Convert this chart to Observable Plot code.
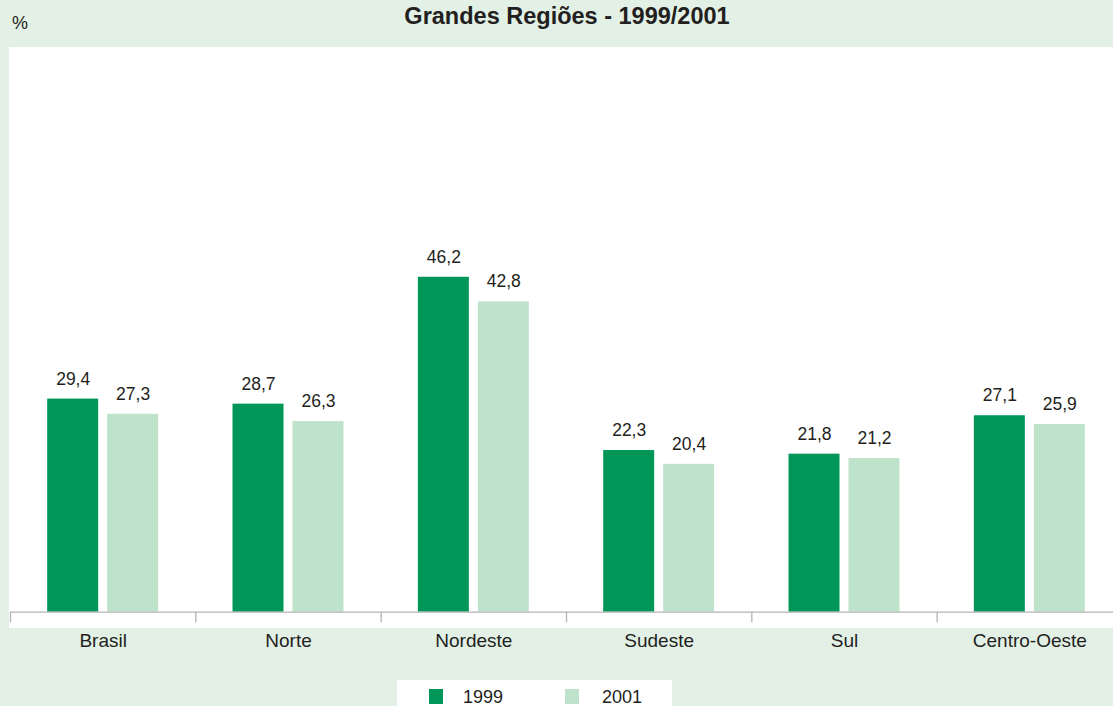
<!DOCTYPE html>
<html>
<head>
<meta charset="utf-8">
<script src="https://cdn.jsdelivr.net/npm/d3@7"></script>
<script src="https://cdn.jsdelivr.net/npm/@observablehq/plot@0.6"></script>
<style>
  html, body { margin: 0; padding: 0; }
  body { width: 1113px; height: 706px; overflow: hidden; background: #e2f0e6; font-family: "Liberation Sans", Arial, sans-serif; color: #231f20; }
  #wrap { position: relative; width: 1113px; height: 706px; overflow: hidden; }
  #panel { position: absolute; left: 9px; top: 47px; width: 1104px; height: 581px; background: #fff; }
  #chart { position: absolute; left: 0; top: 0; }
  .abs { position: absolute; line-height: 1; white-space: nowrap; }
  #title { left: 0; width: 1134px; text-align: center; top: 5px; font-size: 23.5px; font-weight: bold; }
  #unit { left: 12px; top: 14px; font-size: 18px; }
  #legend { position: absolute; left: 397px; top: 680px; width: 275px; height: 30px; background: #fff; }
  .sw { position: absolute; top: 9px; width: 14px; height: 15px; }
  .lt { position: absolute; top: 8px; font-size: 18px; line-height: 1; }
</style>
</head>
<body>
<div id="wrap">
  <div id="panel"></div>
  <div id="chart"></div>
  <div class="abs" id="unit">%</div>
  <div class="abs" id="title">Grandes Regiões - 1999/2001</div>
  <div id="legend"></div>
</div>
<script>
const regions = ["Brasil", "Norte", "Nordeste", "Sudeste", "Sul", "Centro-Oeste"];
const years = ["1999", "2001"];
const values1999 = [29.4, 28.7, 46.2, 22.3, 21.8, 27.1];
const values2001 = [27.3, 26.3, 42.8, 20.4, 21.2, 25.9];
const colors = ["#009658", "#bfe2cb"];

const data = [];
regions.forEach((r, i) => {
  data.push({region: r, year: years[0], value: values1999[i]});
  data.push({region: r, year: years[1], value: values2001[i]});
});

const W = 1122, marginLeft = 10, marginRight = 0;
const step = (W - marginLeft - marginRight) / regions.length;
const fmt = d => d.value.toFixed(1).replace(".", ",");

const chart = Plot.plot({
  width: W,
  height: 706,
  marginLeft, marginRight,
  marginTop: 47,
  marginBottom: 94.3,
  style: "max-width:none;background:transparent;overflow:hidden;font-family:'Liberation Sans',Arial,sans-serif;font-size:19px;color:#231f20;",
  fx: {domain: regions, padding: 0, round: false, axis: "bottom", tickSize: 0, tickPadding: 21, label: null},
  x: {domain: years, paddingInner: 0.15, paddingOuter: 0.62, round: false, axis: null},
  y: {domain: [0, 77.9], axis: null},
  color: {domain: years, range: colors},
  marks: [
    Plot.barY(data, {fx: "region", x: "year", y: "value", fill: "year"}),
    Plot.text(data, {fx: "region", x: "year", y: "value", text: fmt, lineAnchor: "bottom", dy: -14.5, fontSize: 17.5, fill: "#231f20"}),
    Plot.ruleY([0], {stroke: "#b3b3b3", strokeWidth: 1.3}),
    Plot.ruleX(regions, {fx: d => d, x: null, y1: 0, y2: 0, insetBottom: -10.5, dx: -step / 2, stroke: "#b3b3b3", strokeWidth: 1.3})
  ]
});
document.getElementById("chart").appendChild(chart);

const legend = document.getElementById("legend");
const swX = [32, 168], txX = [66, 205];
years.forEach((y, i) => {
  const s = document.createElement("div");
  s.className = "sw"; s.style.left = swX[i] + "px"; s.style.background = colors[i];
  legend.appendChild(s);
  const t = document.createElement("div");
  t.className = "lt"; t.style.left = txX[i] + "px"; t.textContent = y;
  legend.appendChild(t);
});
</script>
</body>
</html>
